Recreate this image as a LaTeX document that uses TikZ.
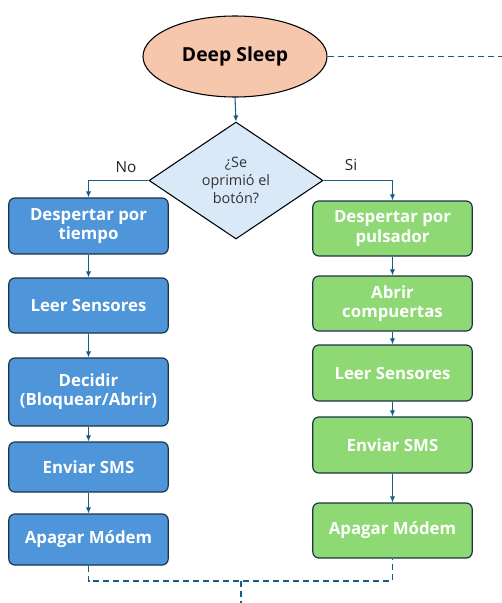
\documentclass[tikz,border=0pt]{standalone}
\usepackage{fontspec}
\setmainfont{Open Sans}
\usetikzlibrary{arrows.meta,shapes.geometric}
\definecolor{boxblue}{HTML}{4E95D9}
\definecolor{boxgreen}{HTML}{8ED973}
\definecolor{ellfill}{HTML}{F6C6AD}
\definecolor{diafill}{HTML}{DAE9F8}
\definecolor{edge}{HTML}{1B3447}
\definecolor{link}{HTML}{156082}
\tikzset{
  blk/.style={draw=edge, line width=0.9pt, rounded corners=4.5pt, text=white,
    font=\bfseries\fontsize{12.6}{14.4}\selectfont, align=center, inner sep=0pt,
    minimum width=119.5pt},
  bluebox/.style={blk, fill=boxblue},
  greenbox/.style={blk, fill=boxgreen},
  arr/.style={draw=link, line width=0.8pt, -{Latex[length=4.5pt,width=4pt]}},
  dsh/.style={draw=link, line width=0.8pt, dash pattern=on 4.5pt off 3pt},
  lbl/.style={font=\fontsize{11.5}{13}\selectfont, text=black!85}
}
\begin{document}
\begin{tikzpicture}[x=0.75pt,y=-0.75pt]
\useasboundingbox (0,0) rectangle (502,603);
% start
\node[ellipse, draw=black, line width=0.8pt, fill=ellfill, minimum width=138pt, minimum height=60.75pt,
  inner sep=0pt, font=\bfseries\fontsize{14.5}{16}\selectfont] (ds) at (235,56.5) {Deep Sleep};
\node[diamond, draw=black, line width=0.8pt, fill=diafill, minimum width=130.5pt, minimum height=87.75pt,
  inner sep=0pt, align=center, text=black!80, font=\fontsize{10.8}{13.5}\selectfont] (dec) at (236,180.5)
  {¿Se\\oprimió el\\botón?};
% left column
\node[bluebox, minimum height=42pt] (l1) at (88.5,226) {Despertar por\\tiempo};
\node[bluebox, minimum height=41.25pt] (l2) at (88.5,305.5) {Leer Sensores};
\node[bluebox, minimum height=51pt] (l3) at (88.5,392) {Decidir\\(Bloquear/Abrir)};
\node[bluebox, minimum height=37.5pt] (l4) at (88.5,467) {Enviar SMS};
\node[bluebox, minimum height=38.25pt] (l5) at (88.5,539.5) {Apagar Módem};
% right column
\node[greenbox, minimum height=41.25pt] (r1) at (392.5,228.5) {Despertar por\\pulsador};
\node[greenbox, minimum height=41.25pt] (r2) at (392.5,303.5) {Abrir\\compuertas};
\node[greenbox, minimum height=42pt] (r3) at (392.5,373) {Leer Sensores};
\node[greenbox, minimum height=42pt] (r4) at (392.5,445) {Enviar SMS};
\node[greenbox, minimum height=41.25pt] (r5) at (392.5,530.5) {Apagar Módem};
% labels
\node[lbl] (no) at (126,167) {No};
\node[lbl] (si) at (351,165) {Si};
% connectors
\draw[arr] (ds.south) -- (dec.north);
\draw[arr] (dec.west) -| (l1.north);
\draw[arr] (dec.east) -| (r1.north);
\draw[arr] (l1) -- (l2);
\draw[arr] (l2) -- (l3);
\draw[arr] (l3) -- (l4);
\draw[arr] (l4) -- (l5);
\draw[arr] (r1) -- (r2);
\draw[arr] (r2) -- (r3);
\draw[arr] (r3) -- (r4);
\draw[arr] (r4) -- (r5);
% dashed loop
\coordinate (outR) at (502,56.5);
\coordinate (jl) at (88.5,581);
\coordinate (jr) at (392.5,581);
\coordinate (jm) at (241,581);
\coordinate (outB) at (241,603);
\draw[dsh] (ds.east) -- (outR);
\draw[dsh] (l5.south) -- (jl) -- (jr) -- (r5.south);
\draw[dsh] (jm) -- (outB);
\end{tikzpicture}
\end{document}
